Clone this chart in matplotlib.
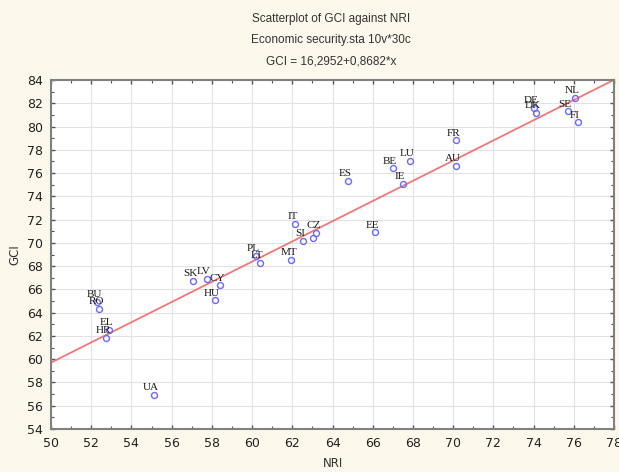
import matplotlib
matplotlib.use("Agg")
import matplotlib.pyplot as plt
import numpy as np
from matplotlib.ticker import MultipleLocator

# country codes and values (NRI, GCI)
countries = ["BU", "RO", "EL", "HR", "UA", "SK", "LV", "CY", "HU", "PL",
             "LT", "MT", "IT", "SI", "CZ", "PT", "ES", "EE", "BE", "LU",
             "IE", "FR", "AU", "DE", "DK", "NL", "SE", "FI"]
nri = [52.3, 52.4, 52.9, 52.75, 55.1, 57.05, 57.75, 58.4, 58.15, 60.2,
       60.4, 61.95, 62.15, 62.55, 63.2, 63.05, 64.75, 66.1, 67.0, 67.85,
       67.5, 70.15, 70.15, 74.0, 74.1, 76.05, 75.7, 76.2]
gci = [64.9, 64.3, 62.5, 61.85, 56.9, 66.7, 66.9, 66.35, 65.05, 68.9,
       68.3, 68.55, 71.6, 70.15, 70.85, 70.4, 75.35, 70.9, 76.4, 77.05,
       75.1, 78.8, 76.65, 81.6, 81.2, 82.45, 81.3, 80.35]
# label hidden under CZ in the reference
hidden = ["PT"]

# regression line from the chart title
intercept = 16.2952
slope = 0.8682

bg = "#fcf8ec"
fig = plt.figure(figsize=(6.19, 4.72), dpi=100, facecolor=bg)
ax = fig.add_axes([51 / 619, 1 - 429 / 472, 563 / 619, 349 / 472])
ax.set_facecolor("white")

xs = np.array([50, 78])
ax.plot(xs, intercept + slope * xs, color="#f07878", lw=1.3, zorder=2)

ax.plot(nri, gci, "o", ms=4.3, mfc="none", mec="#6a6aff", mew=1.0, zorder=3)
for c, x, y in zip(countries, nri, gci):
    if c in hidden:
        continue
    ax.annotate(c, (x, y), xytext=(-2, 2), textcoords="offset points",
                ha="center", va="bottom", fontsize=8,
                family="Liberation Serif", color="#1a1a1a", zorder=4)

ax.set_xlim(50, 78)
ax.set_ylim(54, 84)
ax.xaxis.set_major_locator(MultipleLocator(2))
ax.yaxis.set_major_locator(MultipleLocator(2))
ax.xaxis.set_minor_locator(MultipleLocator(1))
ax.yaxis.set_minor_locator(MultipleLocator(1))
ax.grid(True, which="major", color="#e2e2e2", lw=0.8)
ax.set_axisbelow(True)
ax.tick_params(which="both", direction="in", top=True, right=True,
               color="#555555", labelsize=9, labelcolor="#222222")
ax.tick_params(which="major", length=3, width=1, pad=6)
ax.tick_params(which="minor", length=2, width=0.8)
for s in ax.spines.values():
    s.set_color("#808080")
    s.set_linewidth(1.5)

ax.set_xlabel("NRI", fontsize=8.5, color="#333333", labelpad=5)
ax.set_ylabel("GCI", fontsize=8.5, color="#333333", labelpad=4)

title = ["Scatterplot of GCI against NRI",
         "Economic security.sta 10v*30c",
         "GCI = 16,2952+0,8682*x"]
for i, t in enumerate(title):
    fig.text(331 / 619, 1 - (19 + 21 * i) / 472, t, ha="center", va="center",
             fontsize=8.5, family="Liberation Sans", color="#333333")

fig.savefig("out.png", dpi=100, facecolor=bg)
